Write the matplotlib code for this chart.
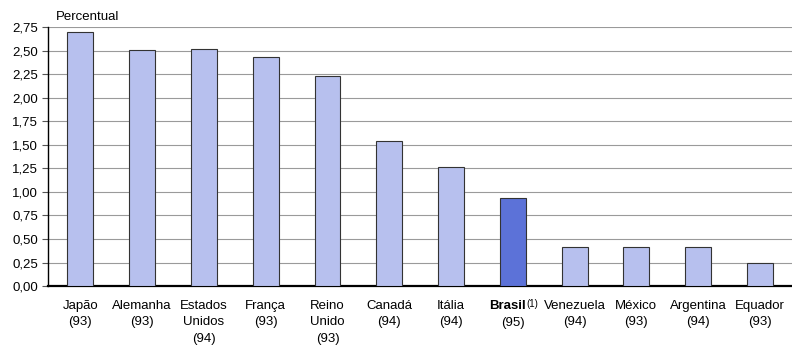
import matplotlib
matplotlib.use("Agg")
import matplotlib.pyplot as plt
from matplotlib.ticker import FuncFormatter

plt.rcParams["font.family"] = ["Liberation Sans", "DejaVu Sans"]

countries = ["Japão", "Alemanha", "Estados\nUnidos", "França", "Reino\nUnido",
             "Canadá", "Itália", "Brasil", "Venezuela", "México", "Argentina", "Equador"]
years = ["93", "93", "94", "93", "93", "94", "94", "95", "94", "93", "94", "93"]
values = [2.70, 2.51, 2.52, 2.43, 2.23, 1.54, 1.26, 0.93, 0.42, 0.42, 0.42, 0.24]
highlight = 7  # Brasil

y_ticks = [0.0, 0.25, 0.5, 0.75, 1.0, 1.25, 1.5, 1.75, 2.0, 2.25, 2.5, 2.75]

fig = plt.figure(figsize=(7.92, 3.51), dpi=100)
ax = fig.add_axes([0.061, 0.185, 0.939, 0.738])

colors = ["#b7c0ee"] * len(values)
colors[highlight] = "#5c72d8"
x = list(range(len(values)))
ax.bar(x, values, width=0.42, color=colors, edgecolor="#333333", linewidth=0.8, zorder=3)

ax.set_ylim(0, 2.75)
ax.set_xlim(-0.52, 11.52)
ax.set_yticks(y_ticks)
ax.yaxis.set_major_formatter(FuncFormatter(lambda v, p: f"{v:.2f}".replace(".", ",")))
ax.yaxis.grid(True, color="#9a9a9a", linewidth=0.8, zorder=0)

labels = [f"{c}\n({yr})" if i != highlight else ""
          for i, (c, yr) in enumerate(zip(countries, years))]
ax.set_xticks(x)
ax.set_xticklabels(labels, fontsize=9.5, linespacing=1.5, va="top")
ax.tick_params(axis="x", length=0, pad=10)
ax.tick_params(axis="y", labelsize=9.5, length=4, width=0.8, color="#555555")

# highlighted country: bold name, footnote mark, year below
xt = ax.get_xaxis_transform()
ax.annotate(countries[highlight], xy=(highlight, 0), xycoords=xt,
            xytext=(-4, -10), textcoords="offset points", ha="center", va="top",
            fontsize=9.5, fontweight="bold")
ax.annotate("(1)", xy=(highlight, 0), xycoords=xt,
            xytext=(10, -9), textcoords="offset points", ha="left", va="top",
            fontsize=7)
ax.annotate(f"({years[highlight]})", xy=(highlight, 0), xycoords=xt,
            xytext=(0, -22.3), textcoords="offset points", ha="center", va="top",
            fontsize=9.5)

for s in ["top", "right"]:
    ax.spines[s].set_visible(False)
ax.spines["left"].set_linewidth(1.0)
ax.spines["bottom"].set_linewidth(1.6)

fig.text(0.07, 0.935, "Percentual", fontsize=9.5, ha="left", va="bottom")

fig.savefig("out.png", dpi=100)
